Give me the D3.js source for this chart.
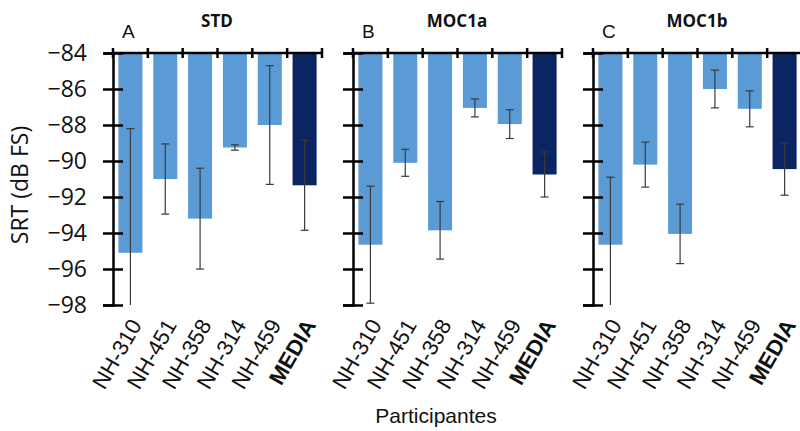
<!DOCTYPE html>
<html>
<head>
<meta charset="utf-8">
<script src="https://cdn.jsdelivr.net/npm/d3@7"></script>
<style>
  body { margin: 0; background: #fff; }
  svg { display: block; }
</style>
</head>
<body>
<svg id="chart"></svg>
<script>
var participants = ["NH-310", "NH-451", "NH-358", "NH-314", "NH-459", "MEDIA"];
var panelLetters = ["A", "B", "C"];
var panelTitles = ["STD", "MOC1a", "MOC1b"];
var yTicks = [-84, -86, -88, -90, -92, -94, -96, -98];

// mean SRT per participant
var stdMeans = [-95.1, -91.0, -93.2, -89.25, -88.0, -91.35];
var moc1aMeans = [-94.65, -90.1, -93.85, -87.05, -87.95, -90.75];
var moc1bMeans = [-94.65, -90.2, -94.05, -86.0, -87.1, -90.45];
// error bar half width
var stdErr = [6.9, 1.95, 2.8, 0.15, 3.3, 2.5];
var moc1aErr = [3.25, 0.75, 1.6, 0.5, 0.8, 1.25];
var moc1bErr = [3.75, 1.25, 1.65, 1.05, 1.0, 1.45];

var allMeans = [stdMeans, moc1aMeans, moc1bMeans];
var allErr = [stdErr, moc1aErr, moc1bErr];

const width = 800,
  height = 431,
  panelLeft = 113,
  panelStep = 240,
  panelWidth = 209,
  lightBlue = "#5b9bd5",
  darkBlue = "#0b2462";

const svg = d3.select("#chart")
  .attr("width", width)
  .attr("height", height);

const y = d3.scaleLinear()
  .domain([-84, -98])
  .range([53, 305]);

for (let p = 0; p < 3; p++) {
  const x0 = panelLeft + p * panelStep;
  const x = d3.scaleBand()
    .domain(participants)
    .range([x0, x0 + panelWidth])
    .paddingInner(0.31)
    .paddingOuter(0.155);

  const data = participants.map((name, i) => ({
    name: name,
    mean: allMeans[p][i],
    err: allErr[p][i]
  }));

  const g = svg.append("g").attr("class", "panel");

  // bars hang down from -84
  g.selectAll(".bar")
    .data(data)
    .enter()
    .append("rect")
    .attr("class", "bar")
    .attr("x", (d) => x(d.name))
    .attr("y", y(-84))
    .attr("width", x.bandwidth())
    .attr("height", (d) => y(d.mean) - y(-84))
    .style("fill", (d) => d.name == "MEDIA" ? darkBlue : lightBlue);

  // error bars (clipped at axis bottom)
  const eb = g.selectAll(".err")
    .data(data)
    .enter()
    .append("g")
    .attr("class", "err")
    .attr("stroke", "#3a3a3a")
    .attr("stroke-width", 1.2);

  eb.append("line")
    .attr("x1", (d) => x(d.name) + x.bandwidth() / 2)
    .attr("x2", (d) => x(d.name) + x.bandwidth() / 2)
    .attr("y1", (d) => y(d.mean + d.err))
    .attr("y2", (d) => y(Math.max(d.mean - d.err, -98)));

  eb.append("line")
    .attr("x1", (d) => x(d.name) + x.bandwidth() / 2 - 4)
    .attr("x2", (d) => x(d.name) + x.bandwidth() / 2 + 4)
    .attr("y1", (d) => y(d.mean + d.err))
    .attr("y2", (d) => y(d.mean + d.err));

  eb.filter((d) => d.mean - d.err > -98)
    .append("line")
    .attr("x1", (d) => x(d.name) + x.bandwidth() / 2 - 4)
    .attr("x2", (d) => x(d.name) + x.bandwidth() / 2 + 4)
    .attr("y1", (d) => y(d.mean - d.err))
    .attr("y2", (d) => y(d.mean - d.err));

  // top axis line with crossing ticks at category boundaries
  g.append("line")
    .attr("x1", x0)
    .attr("x2", x0 + panelWidth)
    .attr("y1", y(-84))
    .attr("y2", y(-84))
    .attr("stroke", "#000")
    .attr("stroke-width", 2.5);

  g.selectAll(".xtick")
    .data(d3.range(participants.length + 1))
    .enter()
    .append("line")
    .attr("x1", (i) => x0 + i * x.step())
    .attr("x2", (i) => x0 + i * x.step())
    .attr("y1", y(-84) - 5)
    .attr("y2", y(-84) + 5)
    .attr("stroke", "#000")
    .attr("stroke-width", 2.5);

  // y axis
  const yAxis = g.append("g")
    .attr("transform", "translate(" + x0 + ",0)")
    .call(d3.axisLeft(y).tickValues(yTicks).tickSize(10).tickPadding(16));
  yAxis.select(".domain")
    .attr("stroke", "#000")
    .attr("stroke-width", 2.5);
  yAxis.selectAll(".tick line")
    .attr("x2", 10)
    .attr("x1", -10)
    .attr("stroke", "#000")
    .attr("stroke-width", 2.5);
  yAxis.selectAll(".tick text")
    .style("font-family", "'Open Sans', sans-serif")
    .style("font-size", "23px")
    .attr("fill", "#111");
  if (p > 0) yAxis.selectAll(".tick text").remove();

  // x labels rotated
  g.selectAll(".xlabel")
    .data(participants)
    .enter()
    .append("text")
    .attr("class", "xlabel")
    .attr("transform", (d) => "translate(" + (x(d) + x.bandwidth() / 2 + 12) + ",325) rotate(-60)")
    .style("text-anchor", "end")
    .style("font-family", "'Liberation Sans', Arial, sans-serif")
    .style("font-size", "22px")
    .style("font-weight", (d) => d == "MEDIA" ? "bold" : "normal")
    .attr("fill", "#111")
    .text((d) => d);

  // panel letter and title
  g.append("text")
    .attr("x", x0 + 9)
    .attr("y", 38)
    .style("font-family", "'Liberation Sans', Arial, sans-serif")
    .style("font-size", "19px")
    .attr("fill", "#111")
    .text(panelLetters[p]);

  g.append("text")
    .attr("x", x0 + 104)
    .attr("y", 27)
    .style("text-anchor", "middle")
    .style("font-family", "'Open Sans', sans-serif")
    .style("font-size", "17px")
    .style("font-weight", "bold")
    .attr("fill", "#111")
    .text(panelTitles[p]);
}

// axis titles
svg.append("text")
  .attr("transform", "translate(28,185) rotate(-90)")
  .style("text-anchor", "middle")
  .style("font-family", "'Open Sans', sans-serif")
  .style("font-size", "23px")
  .attr("fill", "#111")
  .text("SRT (dB FS)");

svg.append("text")
  .attr("x", 436)
  .attr("y", 423)
  .style("text-anchor", "middle")
  .style("font-family", "'Liberation Sans', Arial, sans-serif")
  .style("font-size", "21px")
  .attr("fill", "#111")
  .text("Participantes");
</script>
</body>
</html>
